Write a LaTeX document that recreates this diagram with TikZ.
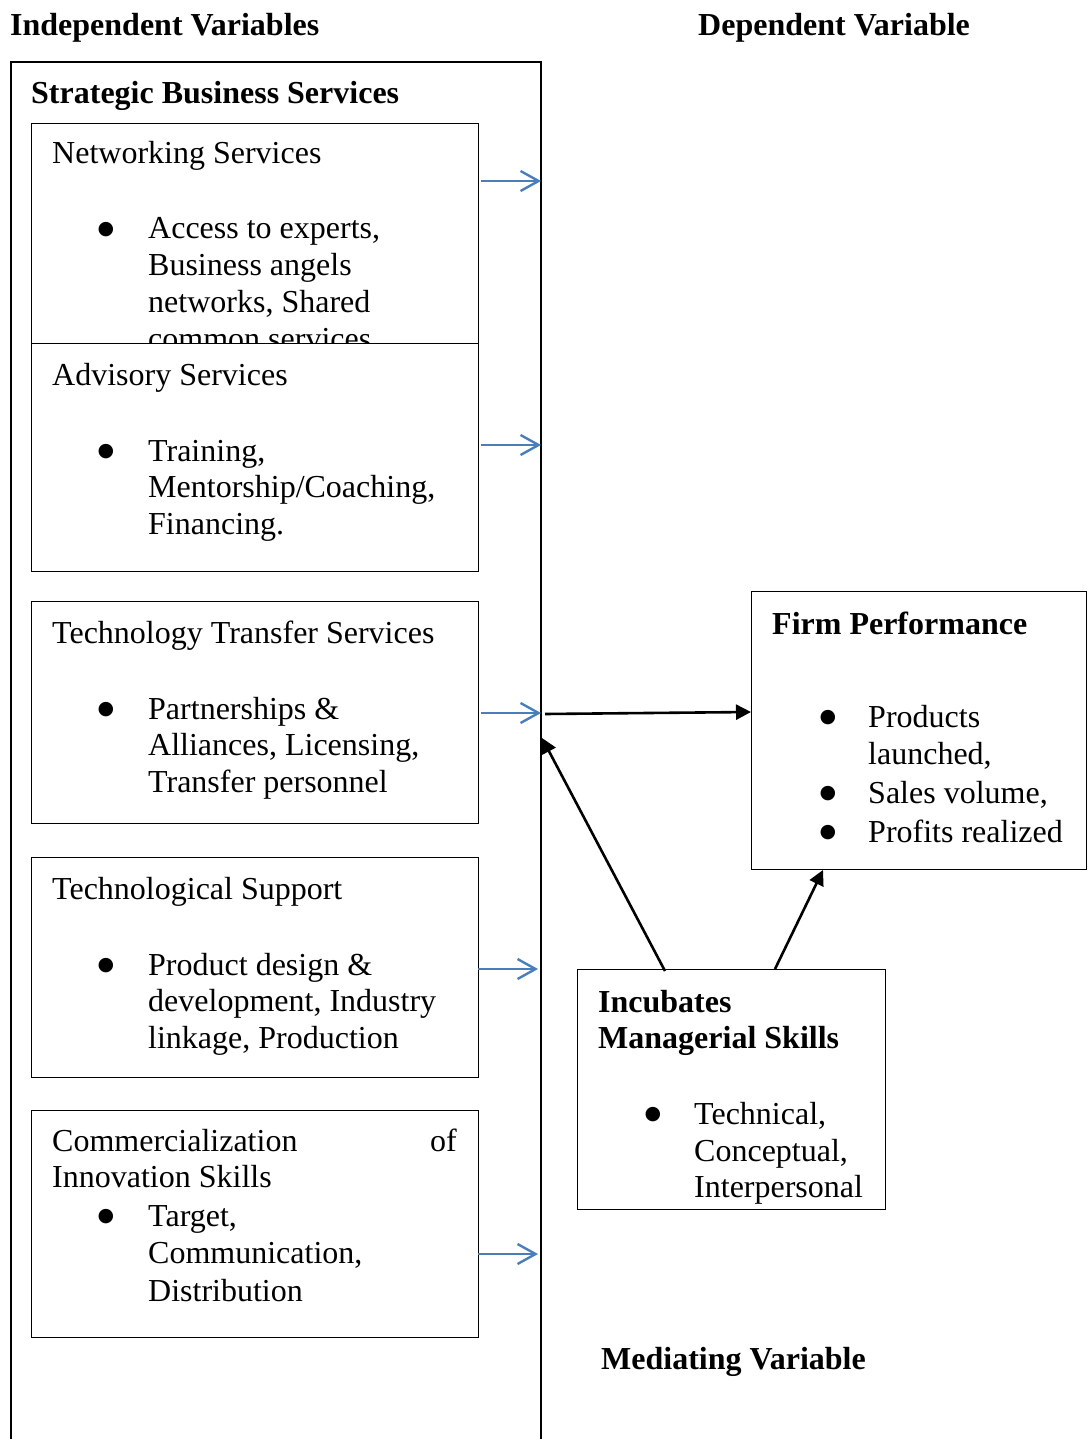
\documentclass[tikz,border=0pt]{standalone}
\usepackage{fontspec}
\setmainfont{Liberation Serif}
\newfontfamily\dejavu{DejaVu Sans}
\usetikzlibrary{arrows.meta}
\tikzset{
  box/.style={draw=black, line width=1.4pt, fill=white, anchor=north west, inner sep=0pt},
  txt/.style={anchor=base west, inner sep=0pt, yshift=-2pt, font=\fontsize{32}{37}\selectfont},
  hdr/.style={anchor=base west, inner sep=0pt, yshift=-2pt, font=\fontsize{32}{37}\selectfont\bfseries},
  bul/.style={anchor=center, inner sep=0pt, yshift=7pt, font=\dejavu\fontsize{19}{21}\selectfont},
  bluearr/.style={draw={rgb,255:red,74;green,126;blue,187}, line width=2.4pt, -{Straight Barb[length=18pt,width=20pt,line width=2.4pt]}},
  blackarr/.style={draw=black, line width=2.6pt, -{Triangle[length=15pt,width=15pt]}},
}
\begin{document}
\begin{tikzpicture}[x=1pt,y=-1pt]
\clip (0,0) rectangle (1087,1439);
\fill[white] (0,0) rectangle (1087,1439);
% headers
\node[hdr] (indep) at (10,34) {Independent Variables};
\node[hdr] (dep) at (698,34) {Dependent Variable};
% outer open box
\draw[line width=1.4pt] (11,1450) -- (11,62) -- (541,62) -- (541,1450);
\node[hdr] (sbs) at (31,102) {Strategic Business Services};
% box 1
\node[box, minimum width=447pt, minimum height=230pt] (net) at (31,123) {};
\node[txt] (netT) at (52,162) {Networking Services};
\node[bul] (netB) at (106,237) {●};
\node[txt] (net1) at (148,237) {Access to experts,};
\node[txt] (net2) at (148,273) {Business angels};
\node[txt] (net3) at (148,310) {networks, Shared};
\node[txt] (net4) at (148,347) {common services};
% box 2 (covers end of box 1)
\node[box, minimum width=447pt, minimum height=228pt] (adv) at (31,343) {};
\node[txt] (advT) at (52,383) {Advisory Services};
\node[bul] (advB) at (106,459) {●};
\node[txt] (adv1) at (148,459) {Training,};
\node[txt] (adv2) at (148,495) {Mentorship/Coaching,};
\node[txt] (adv3) at (148,532) {Financing.};
% box 3
\node[box, minimum width=447pt, minimum height=222pt] (tts) at (31,601) {};
\node[txt] (ttsT) at (52,641) {Technology Transfer Services};
\node[bul] (ttsB) at (106,717) {●};
\node[txt] (tts1) at (148,717) {Partnerships \&};
\node[txt] (tts2) at (148,753) {Alliances, Licensing,};
\node[txt] (tts3) at (148,790) {Transfer personnel};
% box 4
\node[box, minimum width=447pt, minimum height=220pt] (tsup) at (31,857) {};
\node[txt] (tsupT) at (52,897) {Technological Support};
\node[bul] (tsupB) at (106,973) {●};
\node[txt] (tsup1) at (148,973) {Product design \&};
\node[txt] (tsup2) at (148,1009) {development, Industry};
\node[txt] (tsup3) at (148,1046) {linkage, Production};
% box 5
\node[box, minimum width=447pt, minimum height=227pt] (com) at (31,1110) {};
\node[txt] (comT) at (52,1149) {Commercialization};
\node[anchor=base east, inner sep=0pt, yshift=-2pt, font=\fontsize{32}{37}\selectfont] (comOf) at (457,1149) {of};
\node[txt] (comT2) at (52,1185) {Innovation Skills};
\node[bul] (comB) at (106,1224) {●};
\node[txt] (com1) at (148,1224) {Target,};
\node[txt] (com2) at (148,1261) {Communication,};
\node[txt] (com3) at (148,1299) {Distribution};
% firm performance
\node[box, minimum width=335pt, minimum height=278pt] (fp) at (751,591) {};
\node[hdr] (fpT) at (772,632) {Firm Performance};
\node[bul] (fpB1) at (828,725) {●};
\node[txt] (fp1) at (868,725) {Products};
\node[txt] (fp2) at (868,762) {launched,};
\node[bul] (fpB2) at (828,801) {●};
\node[txt] (fp3) at (868,801) {Sales volume,};
\node[bul] (fpB3) at (828,840) {●};
\node[txt] (fp4) at (868,840) {Profits realized};
% incubates
\node[box, minimum width=308pt, minimum height=240pt] (inc) at (577,969) {};
\node[hdr] (incT1) at (598,1010) {Incubates};
\node[hdr] (incT2) at (598,1046) {Managerial Skills};
\node[bul] (incB) at (653,1122) {●};
\node[txt] (inc1) at (694,1122) {Technical,};
\node[txt] (inc2) at (694,1159) {Conceptual,};
\node[txt] (inc3) at (694,1195) {Interpersonal};
\node[hdr] (med) at (601,1367) {Mediating Variable};
% blue arrow endpoints
\coordinate (b1s) at (481,181); \coordinate (b1e) at (541,181);
\coordinate (b2s) at (481,445); \coordinate (b2e) at (541,445);
\coordinate (b3s) at (481,713); \coordinate (b3e) at (541,713);
\coordinate (b4s) at (478,969); \coordinate (b4e) at (538,969);
\coordinate (b5s) at (478,1254); \coordinate (b5e) at (538,1254);
\foreach \i in {1,...,5} {\draw[bluearr] (b\i s) -- (b\i e);}
% black arrows
\coordinate (ms) at (545,714);
\coordinate (fpIn) at (751,712);
\draw[blackarr] (ms) -- (fpIn);
\coordinate (incL) at (665,971);
\coordinate (obR) at (542,738);
\draw[blackarr] (incL) -- (obR);
\coordinate (incR) at (775,969);
\coordinate (fpB) at (823,870);
\draw[blackarr] (incR) -- (fpB);
\end{tikzpicture}
\end{document}
